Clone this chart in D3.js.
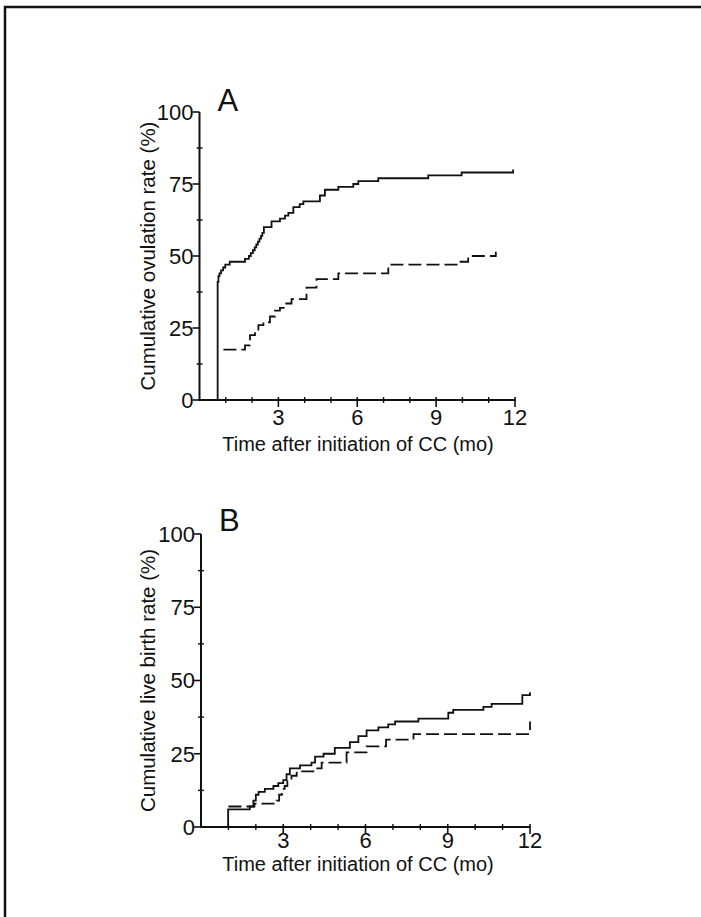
<!DOCTYPE html>
<html>
<head>
<meta charset="utf-8">
<script src="https://cdn.jsdelivr.net/npm/d3@7"></script>
<style>
  body { margin: 0; background: #fff; }
  svg { display: block; }
  text { font-family: "Liberation Sans", Arial, sans-serif; fill: #111; }
</style>
</head>
<body>
<svg id="chart" width="701" height="917"></svg>
<script>
// x ticks (months) and y ticks (%)
const x_major = [3, 6, 9, 12];
const x_minor = [1, 2, 4, 5, 7, 8, 10, 11];
const y_major = [0, 25, 50, 75, 100];
const y_minor = [12.5, 37.5, 62.5, 87.5];

// panel A: cumulative ovulation rate, [month, %] step points
const ovulation_solid = [
  [0.69, 0], [0.69, 41], [0.72, 43], [0.76, 44], [0.82, 45], [0.9, 46], [0.98, 47],
  [1.15, 48], [1.73, 49], [1.88, 50], [1.95, 51], [2.03, 52], [2.1, 53], [2.16, 54],
  [2.22, 55], [2.28, 56], [2.34, 57], [2.39, 58], [2.45, 60], [2.74, 62], [3.06, 63],
  [3.25, 64], [3.38, 65], [3.57, 67], [3.81, 68], [3.95, 69], [4.58, 71], [4.77, 73],
  [5.28, 74], [5.85, 75], [6.04, 76], [6.8, 77], [8.7, 78], [9.97, 79], [11.93, 80]
];
const ovulation_dashed = [
  [0.91, 17.5], [1.73, 19], [1.92, 22.5], [2.11, 24], [2.24, 26], [2.43, 27],
  [2.68, 29], [2.87, 31], [3.06, 32], [3.25, 33.5], [3.5, 35], [4.07, 39],
  [4.45, 42], [5.28, 44], [7.18, 47], [9.78, 48], [10.22, 50], [11.27, 50], [11.27, 51.5]
];

// panel B: cumulative live birth rate
const birth_solid = [
  [0.99, 0], [0.99, 6], [1.78, 7], [1.91, 9], [2.0, 11], [2.1, 12], [2.33, 13],
  [2.64, 14], [2.82, 15], [3.0, 16], [3.12, 18], [3.24, 20], [3.61, 21], [4.03, 22],
  [4.16, 24], [4.47, 25], [4.88, 27], [5.43, 29], [5.74, 31], [6.04, 33], [6.47, 34],
  [6.83, 35], [7.08, 36], [7.93, 37], [9.02, 39], [9.2, 40], [10.3, 41], [10.6, 42],
  [11.72, 45], [12.0, 45], [12.0, 46]
];
const birth_dashed = [
  [1.0, 7], [1.95, 8], [2.76, 9], [2.85, 11], [2.95, 13], [3.05, 14], [3.15, 16],
  [3.3, 17.5], [3.49, 19], [4.16, 20], [4.4, 22], [5.31, 25.5], [6.04, 27.5],
  [6.75, 29.8], [7.75, 31.7], [12.0, 31.7], [12.0, 36]
];

const svg = d3.select("#chart");

// page frame (top and left edges of the scanned box)
svg.append("path")
  .attr("d", "M5,917 L5,7 L701,7")
  .attr("fill", "none")
  .attr("stroke", "#111")
  .attr("stroke-width", 2.5);

function draw_panel(opts) {
  let x = d3.scaleLinear().domain([0, 12]).range([opts.left, opts.right]);
  let y = d3.scaleLinear().domain([0, 100]).range([opts.bottom, opts.top]);
  let g = svg.append("g");

  // axis lines
  g.append("line")
    .attr("x1", x(0)).attr("x2", x(0))
    .attr("y1", y(0)).attr("y2", y(100))
    .attr("stroke", "#111").attr("stroke-width", 2);
  g.append("line")
    .attr("x1", x(0) - 1).attr("x2", x(12) + 1)
    .attr("y1", y(0)).attr("y2", y(0))
    .attr("stroke", "#111").attr("stroke-width", 2);

  // y ticks
  g.selectAll(".ymaj").data(y_major).enter().append("line")
    .attr("x1", x(0) - 7).attr("x2", x(0))
    .attr("y1", (d) => y(d)).attr("y2", (d) => y(d))
    .attr("stroke", "#111").attr("stroke-width", 1.6);
  g.selectAll(".ymin").data(y_minor).enter().append("line")
    .attr("x1", x(0) - 3).attr("x2", x(0) + 3)
    .attr("y1", (d) => y(d)).attr("y2", (d) => y(d))
    .attr("stroke", "#111").attr("stroke-width", 1.4);
  g.selectAll(".ylab").data(y_major).enter().append("text")
    .attr("x", x(0) - 6)
    .attr("y", (d) => y(d))
    .attr("dy", "0.36em")
    .attr("text-anchor", "end")
    .style("font-size", opts.tick_font + "px")
    .text((d) => d);

  // x ticks
  g.selectAll(".xmaj").data(x_major).enter().append("line")
    .attr("x1", (d) => x(d)).attr("x2", (d) => x(d))
    .attr("y1", y(0) - 3).attr("y2", y(0) + 7)
    .attr("stroke", "#111").attr("stroke-width", 1.6);
  g.selectAll(".xmin").data(x_minor).enter().append("line")
    .attr("x1", (d) => x(d)).attr("x2", (d) => x(d))
    .attr("y1", y(0) - 3).attr("y2", y(0) + 3)
    .attr("stroke", "#111").attr("stroke-width", 1.4);
  g.selectAll(".xlab").data(x_major).enter().append("text")
    .attr("x", (d) => x(d))
    .attr("y", y(0) + opts.xlab_offset)
    .attr("text-anchor", "middle")
    .style("font-size", opts.tick_font + "px")
    .text((d) => d);

  // curves
  let line = d3.line()
    .x((d) => x(d[0]))
    .y((d) => y(d[1]))
    .curve(d3.curveStepAfter);
  g.append("path")
    .datum(opts.solid)
    .attr("d", line)
    .attr("fill", "none")
    .attr("stroke", "#111")
    .attr("stroke-width", 1.8);
  g.append("path")
    .datum(opts.dashed)
    .attr("d", line)
    .attr("fill", "none")
    .attr("stroke", "#111")
    .attr("stroke-width", 1.8)
    .attr("stroke-dasharray", "13,5");

  // panel letter
  g.append("text")
    .attr("x", opts.left + 18)
    .attr("y", opts.letter_y)
    .style("font-size", "31px")
    .text(opts.letter);

  // axis titles
  g.append("text")
    .attr("transform", `translate(155,${(y(0) + y(100)) / 2}) rotate(-90)`)
    .attr("text-anchor", "middle")
    .style("font-size", "20.5px")
    .text(opts.y_title);
  g.append("text")
    .attr("x", 358)
    .attr("y", opts.x_title_y)
    .attr("text-anchor", "middle")
    .style("font-size", "20px")
    .text("Time after initiation of CC (mo)");
}

draw_panel({
  left: 199.5, right: 515, top: 112, bottom: 400,
  solid: ovulation_solid, dashed: ovulation_dashed,
  letter: "A", letter_y: 111,
  tick_font: 22, xlab_offset: 25,
  y_title: "Cumulative ovulation rate (%)",
  x_title_y: 451
});

draw_panel({
  left: 201, right: 530, top: 534, bottom: 827,
  solid: birth_solid, dashed: birth_dashed,
  letter: "B", letter_y: 531,
  tick_font: 22, xlab_offset: 21,
  y_title: "Cumulative live birth rate (%)",
  x_title_y: 871
});
</script>
</body>
</html>
